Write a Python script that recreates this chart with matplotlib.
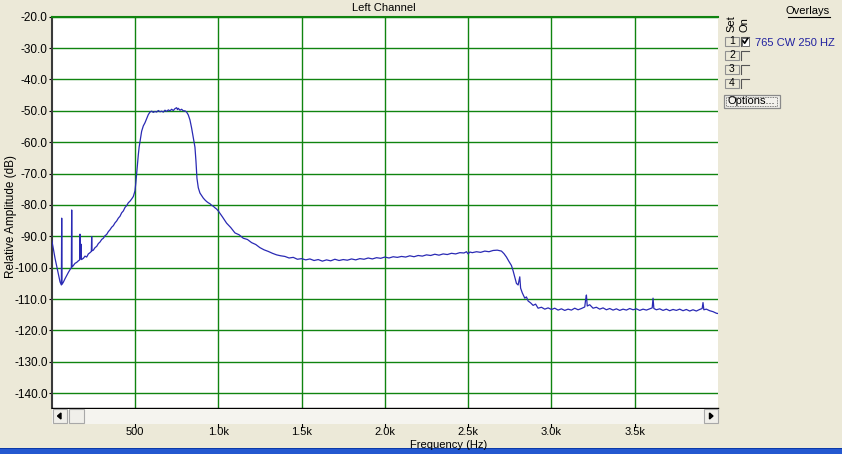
import matplotlib
matplotlib.use("Agg")
import matplotlib.pyplot as plt
from matplotlib.patches import Rectangle, Polygon

plt.rcParams['font.family'] = ['Liberation Sans', 'DejaVu Sans']

# spectrum trace (Hz, dB)
freq_hz = [0, 10, 20, 30, 40, 50, 58, 60, 62, 70, 80, 90, 100, 110, 118, 120, 122, 130, 140, 150,
           160, 168, 170, 172, 176, 179, 190, 200, 210, 220, 230, 238, 240, 242, 250, 260, 270, 280,
           290, 300, 310, 320, 330, 340, 350, 360, 370, 380, 390, 400, 410, 420, 430, 440, 450, 460,
           470, 480, 490, 500,
           505, 510, 515, 520, 525, 530, 540, 550, 560, 570, 580, 590, 600, 610, 620, 630, 640, 650,
           660, 670, 680, 690, 700, 710, 720, 730, 740, 750, 755, 760, 770, 780, 790, 800, 810, 820,
           830, 840, 850, 860, 866, 872, 880, 890, 900, 910, 920, 930, 940, 950, 960, 970, 980, 990,
           1000,
           1025, 1050, 1075, 1100, 1125, 1150, 1175, 1200, 1225, 1250, 1275, 1300, 1325, 1350, 1375,
           1400, 1425, 1450, 1475, 1500, 1525, 1550, 1575, 1600, 1625, 1650, 1675, 1700, 1725, 1750,
           1775, 1800, 1825, 1850, 1875, 1900, 1925, 1950, 1975, 2000, 2025, 2050, 2075, 2100, 2125,
           2150, 2175, 2200, 2225, 2250, 2275, 2300, 2325, 2350, 2375, 2400, 2425, 2450, 2475, 2490,
           2500, 2510, 2525, 2550, 2575, 2600, 2625, 2650, 2675, 2700,
           2715, 2730, 2745, 2760, 2770, 2780, 2790, 2800, 2810, 2815, 2825, 2840, 2850, 2860, 2875,
           2890, 2905, 2920, 2940, 2960, 2980, 3000, 3020, 3040, 3060, 3080, 3100, 3120, 3140, 3160,
           3180, 3200, 3205, 3210, 3215, 3230, 3250, 3270, 3290, 3310, 3330, 3350, 3370, 3390, 3410,
           3430, 3450, 3470, 3490, 3510, 3530, 3550, 3570, 3590, 3605, 3610, 3615, 3630, 3650, 3670,
           3690, 3710, 3730, 3750, 3770, 3790, 3810, 3830, 3850, 3870, 3890, 3905, 3910, 3915, 3930,
           3950, 3970, 3990, 4000]
level_db = [-91.2, -94.0, -97.0, -99.5, -102.0, -104.5, -105.5, -84.2, -105.3, -104.6, -103.5, -102.5,
            -101.5, -100.6, -100.0, -81.6, -99.8, -99.3, -98.6, -98.3, -97.8, -97.5, -89.3, -97.2,
            -92.5, -97.4, -97.0, -96.3, -96.6, -95.6, -95.2, -94.8, -90.1, -94.6, -94.4, -93.6, -93.2,
            -92.3, -91.8, -91.0, -90.6, -89.8, -89.4, -88.5, -87.9, -87.1, -86.6, -85.7, -85.1, -84.2,
            -83.6, -82.5, -81.9, -80.8, -80.2, -79.3, -78.8, -78.1, -77.3, -75.5,
            -73.0, -70.0, -67.0, -64.0, -61.5, -59.8, -56.5, -54.8, -53.8, -52.5, -51.2, -50.4, -50.1,
            -50.5, -50.2, -50.4, -49.9, -50.3, -50.1, -50.4, -49.8, -50.2, -49.7, -50.0, -49.5, -49.9,
            -49.3, -49.0, -49.6, -49.2, -49.8, -49.5, -50.0, -50.0, -50.4, -51.3, -52.9, -55.5, -58.5,
            -61.6, -66.0, -71.5, -74.5, -76.2, -77.0, -77.8, -78.4, -78.9, -79.3, -79.6, -80.1, -80.4,
            -80.9, -81.3, -81.9,
            -83.8, -85.8, -87.2, -88.9, -89.5, -90.6, -91.0, -92.0, -92.6, -93.6, -94.3, -94.8, -95.4,
            -95.9, -96.2, -96.4, -96.9, -96.7, -97.3, -97.1, -97.5, -97.2, -97.7, -97.4, -97.9, -97.5,
            -97.8, -97.3, -97.7, -97.4, -97.6, -97.2, -97.5, -97.1, -97.3, -96.9, -97.2, -96.8, -97.0,
            -96.6, -96.9, -96.5, -96.7, -96.4, -96.6, -96.2, -96.5, -96.1, -96.3, -95.9, -96.1, -95.7,
            -96.0, -95.6, -95.8, -95.4, -95.6, -95.2, -95.3, -94.9, -95.6, -95.0, -95.2, -94.9, -95.1,
            -94.7, -94.9, -94.5, -94.4, -94.7,
            -95.5, -96.6, -98.0, -99.3, -101.0, -103.0, -105.0, -105.5, -102.9, -106.5, -108.0, -109.7,
            -109.3, -110.6, -111.2, -112.0, -111.6, -112.9, -112.6, -113.2, -112.8, -113.3, -112.9,
            -113.5, -113.1, -113.6, -113.2, -113.5, -112.9, -113.4, -113.0, -112.5, -110.3, -108.7,
            -112.2, -111.8, -112.9, -112.6, -113.2, -112.8, -113.4, -113.0, -113.5, -113.1, -113.6,
            -113.2, -113.5, -113.0, -113.4, -113.1, -113.6, -113.2, -113.5, -113.1, -112.8, -109.7,
            -113.0, -113.4, -113.1, -113.6, -113.2, -113.7, -113.3, -113.6, -113.2, -113.7, -113.3,
            -113.8, -113.4, -113.8, -113.3, -113.0, -111.1, -113.4, -113.2, -113.7, -114.0, -114.5,
            -114.6]

x_ticks = [500, 1000, 1500, 2000, 2500, 3000, 3500]
x_labels = ['500', '1.0k', '1.5k', '2.0k', '2.5k', '3.0k', '3.5k']
y_ticks = [-20, -30, -40, -50, -60, -70, -80, -90, -100, -110, -120, -130, -140]
y_labels = ['%.1f' % v for v in y_ticks]

W, H = 842, 454
bg = '#ece9d8'
grid_green = '#108410'

fig = plt.figure(figsize=(W / 100, H / 100), dpi=100, facecolor=bg)
ax = fig.add_axes([51.7 / W, 1 - 408.3 / H, (718 - 51.7) / W, (408.3 - 16.7) / H])
ax.set_facecolor('white')
ax.plot(freq_hz, level_db, color='#2a2ab4', lw=0.9, zorder=3)
ax.set_xlim(0, 4000)
ax.set_ylim(-144.8, -20)
ax.set_xticks(x_ticks)
ax.set_xticklabels(x_labels)
ax.set_yticks(y_ticks)
ax.set_yticklabels(y_labels)
ax.grid(True, color=grid_green, lw=1.0)
ax.tick_params(axis='x', length=0, pad=13.5, labelsize=8)
ax.tick_params(axis='y', length=2.3, pad=0.6, labelsize=8.5, width=0.8)
ax.spines['right'].set_visible(False)
ax.spines['top'].set_color(grid_green)
ax.spines['top'].set_linewidth(1.5)
ax.spines['left'].set_color('#3a3a3a')
ax.spines['left'].set_linewidth(1.5)
ax.spines['bottom'].set_color('black')
ax.spines['bottom'].set_linewidth(1.0)
# little tick marks below the scrollbar
for t in x_ticks:
    ax.plot([t, t], [-0.041, -0.049], transform=ax.get_xaxis_transform(),
            color='black', lw=0.8, clip_on=False)

# window chrome drawn in pixel coordinates
ui = fig.add_axes([0, 0, 1, 1])
ui.set_xlim(0, W)
ui.set_ylim(H, 0)
ui.set_axis_off()

# scrollbar
ui.add_patch(Rectangle((52, 408.5), 666, 15, facecolor='#f5f4ef', edgecolor='none'))
ui.add_patch(Rectangle((52.5, 409), 14.5, 14, facecolor='#f0efea', edgecolor='#a8a8a8', lw=0.8))
ui.add_patch(Rectangle((68.5, 409), 15, 14, facecolor='#f0efea', edgecolor='#a8a8a8', lw=0.8))
ui.add_patch(Rectangle((703.5, 409), 14.5, 14, facecolor='#f0efea', edgecolor='#a8a8a8', lw=0.8))
ui.add_patch(Polygon([(57.5, 416), (61, 413), (61, 419)], closed=True, color='black'))
ui.add_patch(Polygon([(713, 416), (709.5, 413), (709.5, 419)], closed=True, color='black'))

# texts
ui.text(384, 8, 'Left Channel', ha='center', va='center', fontsize=8)
ui.text(11, 216, 'Relative Amplitude (dB)', ha='center', va='center', rotation=90, fontsize=8.5)
ui.text(449, 444.5, 'Frequency (Hz)', ha='center', va='center', fontsize=8)

# bottom blue strip
ui.add_patch(Rectangle((0, 448.5), W, 6, facecolor='#2458d0', edgecolor='none'))
ui.add_patch(Rectangle((0, 448), W, 1.2, facecolor='#0c3aa8', edgecolor='none'))

# overlay panel
ui.text(808, 11, 'Overlays', ha='center', va='center', fontsize=8)
ui.plot([787.5, 829.5], [16.5, 16.5], color='black', lw=0.8)
ui.text(731, 32, 'Set', ha='center', va='bottom', rotation=90, fontsize=8)
ui.text(744, 32, 'On', ha='center', va='bottom', rotation=90, fontsize=8)
for i, yc in enumerate([41, 55, 69, 83]):
    ui.add_patch(Rectangle((725, yc - 4.5), 14, 9.5, facecolor=bg, edgecolor='#909090', lw=0.8))
    ui.text(732, yc, str(i + 1), ha='center', va='center', fontsize=7.5)
    ui.plot([741, 741, 749], [yc + 4.5, yc - 4, yc - 4], color='#555555', lw=0.8)
    if i == 0:
        ui.add_patch(Rectangle((741.5, yc - 3.5), 7, 8, facecolor='white', edgecolor='#555555', lw=0.6))
        ui.plot([743, 744.7, 747.5], [yc, yc + 2.2, yc - 2.3], color='black', lw=1.2)
ui.text(755, 42.5, '765 CW 250 HZ', ha='left', va='center', fontsize=8, color='#2020a0')
ui.add_patch(Rectangle((723.5, 95), 56, 13, facecolor='#f2f1ec', edgecolor='#8a8a8a', lw=0.9))
ui.add_patch(Rectangle((726, 97), 51, 9, facecolor='none', edgecolor='#555555', lw=0.6, ls=(0, (1, 1))))
ui.text(751.5, 101.5, 'Options...', ha='center', va='center', fontsize=8)

fig.savefig('out.png', dpi=100, facecolor=bg)
